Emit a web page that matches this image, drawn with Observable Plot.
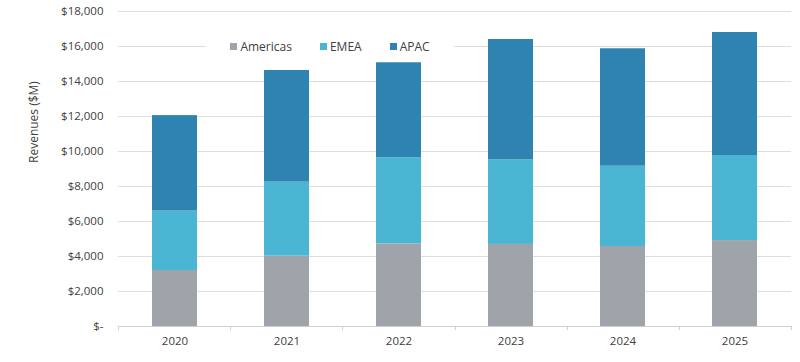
<!DOCTYPE html>
<html>
<head>
<meta charset="utf-8">
<script src="https://cdn.jsdelivr.net/npm/d3@7"></script>
<script src="https://cdn.jsdelivr.net/npm/@observablehq/plot@0.6"></script>
<style>
  html, body { margin: 0; padding: 0; background: #fff; }
  #wrap { position: relative; width: 800px; height: 362px; font-family: "Open Sans", sans-serif; }
  #legend { position: absolute; left: 206px; top: 37px; width: 248px; height: 18px; background: #fff;
    display: flex; justify-content: center; align-items: center; font-size: 12px; color: #404040; }
  #legend .item { display: flex; align-items: center; margin: 0 14px; }
  #legend .sw { width: 7px; height: 7px; margin-right: 3px; }
</style>
</head>
<body>
<div id="wrap"></div>
<script>
const years = ["2020", "2021", "2022", "2023", "2024", "2025"];
const regions = ["Americas", "EMEA", "APAC"];
const americas = [3200, 4020, 4720, 4690, 4570, 4910];
const emea     = [3400, 4230, 4920, 4830, 4590, 4860];
const apac     = [5450, 6380, 5430, 6880, 6710, 7030];
const colors = ["#9ea4a9", "#4bb6d3", "#2f83b1"];
const yTicks = [0, 2000, 4000, 6000, 8000, 10000, 12000, 14000, 16000, 18000];

const series = [americas, emea, apac];
const data = [];
years.forEach((y, i) => regions.forEach((r, j) => data.push({year: y, region: r, value: series[j][i]})));

const W = 800, H = 362, mL = 118, mR = 9, mT = 11, mB = 36;
const fmt = d => d === 0 ? "$-" : "$" + d3.format(",")(d);

// category boundary tick marks below the baseline
const boundaryTicks = (index, scales, values, dims) => {
  const step = (dims.width - dims.marginLeft - dims.marginRight) / years.length;
  const y0 = scales.y(0);
  const g = d3.create("svg:g").attr("stroke", "#d0d0d0").attr("stroke-width", 1);
  for (let i = 0; i <= years.length; i++) {
    const x = Math.round(dims.marginLeft + i * step) + 0.5;
    g.append("line").attr("x1", x).attr("x2", x).attr("y1", y0).attr("y2", y0 + 4);
  }
  return g.node();
};

const chart = Plot.plot({
  width: W, height: H,
  marginLeft: mL, marginRight: mR, marginTop: mT, marginBottom: mB,
  style: {fontFamily: "Open Sans, sans-serif", fontSize: "11.5px", color: "#404040", background: "#fff"},
  x: {domain: years, paddingInner: 0.6, paddingOuter: 0.3, label: null},
  y: {domain: [0, 18000], label: null},
  color: {domain: regions, range: colors},
  marks: [
    Plot.ruleY(yTicks.filter(d => d > 0), {stroke: "#dedede", strokeWidth: 1}),
    Plot.ruleY([0], {stroke: "#d0d0d0", strokeWidth: 1}),
    boundaryTicks,
    Plot.barY(data, Plot.stackY({x: "year", y: "value", fill: "region", order: regions})),
    Plot.axisX({tickSize: 0, tickPadding: 10, label: null}),
    Plot.axisY({ticks: yTicks, tickFormat: fmt, tickSize: 0, tickPadding: 15, label: null}),
    Plot.text(["Revenues ($M)"], {frameAnchor: "left", dx: -84, dy: -6, rotate: -90, fontSize: 12, fill: "#404040"})
  ]
});

const wrap = document.getElementById("wrap");
wrap.appendChild(chart);
const legend = document.createElement("div");
legend.id = "legend";
regions.forEach((r, i) => {
  const it = document.createElement("div");
  it.className = "item";
  const sw = document.createElement("span");
  sw.className = "sw";
  sw.style.background = colors[i];
  const t = document.createElement("span");
  t.textContent = r;
  it.appendChild(sw); it.appendChild(t);
  legend.appendChild(it);
});
wrap.appendChild(legend);
</script>
</body>
</html>
